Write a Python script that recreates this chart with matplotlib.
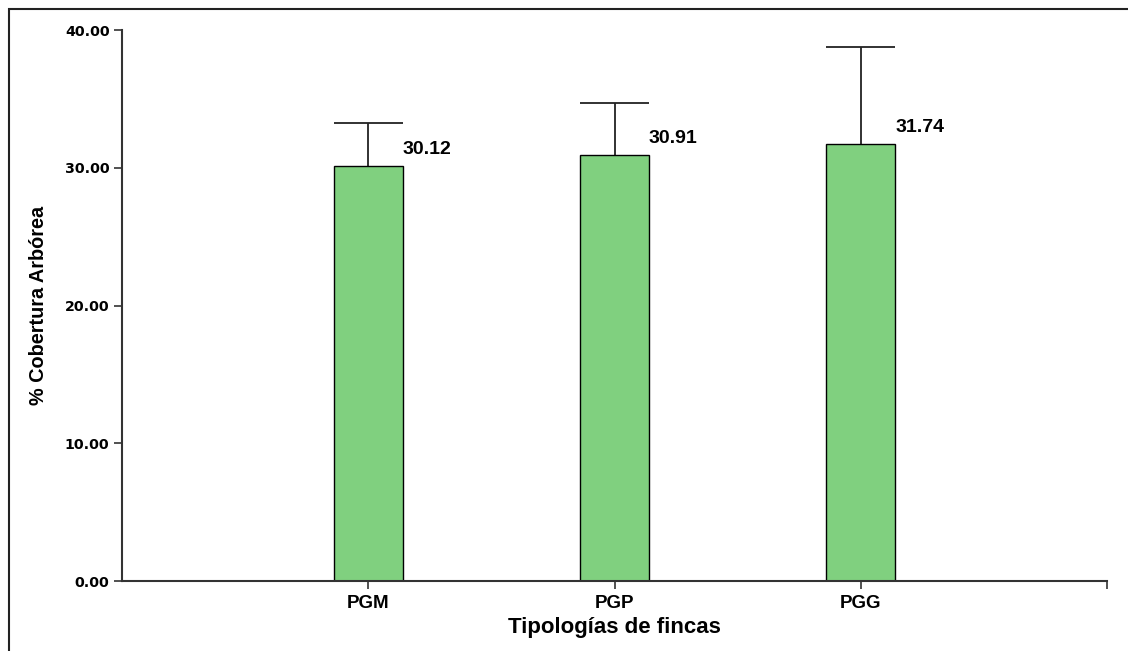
import matplotlib
matplotlib.use('Agg')
import matplotlib.pyplot as plt
from matplotlib.patches import Rectangle
import numpy as np

# --- Data ---
tipologias = ['PGM', 'PGP', 'PGG']
cobertura = [30.12, 30.91, 31.74]
error_sup = [3.10, 3.80, 7.00]
yticks = [0, 10, 20, 30, 40]

fig = plt.figure(figsize=(11.28, 6.51), dpi=100)
ax = fig.add_axes([0.1082, 0.1075, 0.8732, 0.8464])

# frame around the whole figure
fig.patches.append(Rectangle((9 / 1128, -0.1), 1.2, 1.1 - 9 / 651,
                             transform=fig.transFigure, fill=False,
                             edgecolor='#222222', linewidth=1.5))

x = np.arange(1, len(tipologias) + 1)
bar_w = 0.28
cob = np.array(cobertura)
tope = cob + np.array(error_sup)

ax.bar(x, cob, width=bar_w, color='#80D07F', edgecolor='black',
       linewidth=1.0, zorder=2)
# upper error bars only, caps as wide as the bars
ax.vlines(x, cob, tope, color='#222222', linewidth=1.3, zorder=1)
ax.hlines(tope, x - bar_w / 2, x + bar_w / 2, color='#222222',
          linewidth=1.3, zorder=1)

for xi, v in zip(x, cobertura):
    ax.text(xi + 0.14, v + 1.2, f'{v:.2f}', ha='left', va='center',
            fontsize=14, fontweight='bold', family='Liberation Sans')

ax.set_xlim(0, 4)
ax.set_ylim(0, 40)
ax.set_xticks(list(x) + [4])
ax.set_xticklabels(tipologias + [''], fontsize=13.5, fontweight='bold',
                   family='Liberation Sans')
ax.set_yticks(yticks)
ax.set_yticklabels([f'{t:.2f}' for t in yticks], fontsize=10.2,
                   fontweight='bold', family='DejaVu Sans')

for side in ['top', 'right']:
    ax.spines[side].set_visible(False)
for side in ['left', 'bottom']:
    ax.spines[side].set_color('#333333')
    ax.spines[side].set_linewidth(1.5)
ax.tick_params(axis='both', direction='out', length=6, width=1.2,
               color='#333333', pad=3)
ax.tick_params(axis='x', pad=4)

ax.set_xlabel('Tipologías de fincas', fontsize=16, fontweight='bold',
              family='Liberation Sans', labelpad=4)
ax.set_ylabel('% Cobertura Arbórea', fontsize=14.3, fontweight='bold',
              family='Liberation Sans', labelpad=12)

fig.savefig('out.png', dpi=100)
